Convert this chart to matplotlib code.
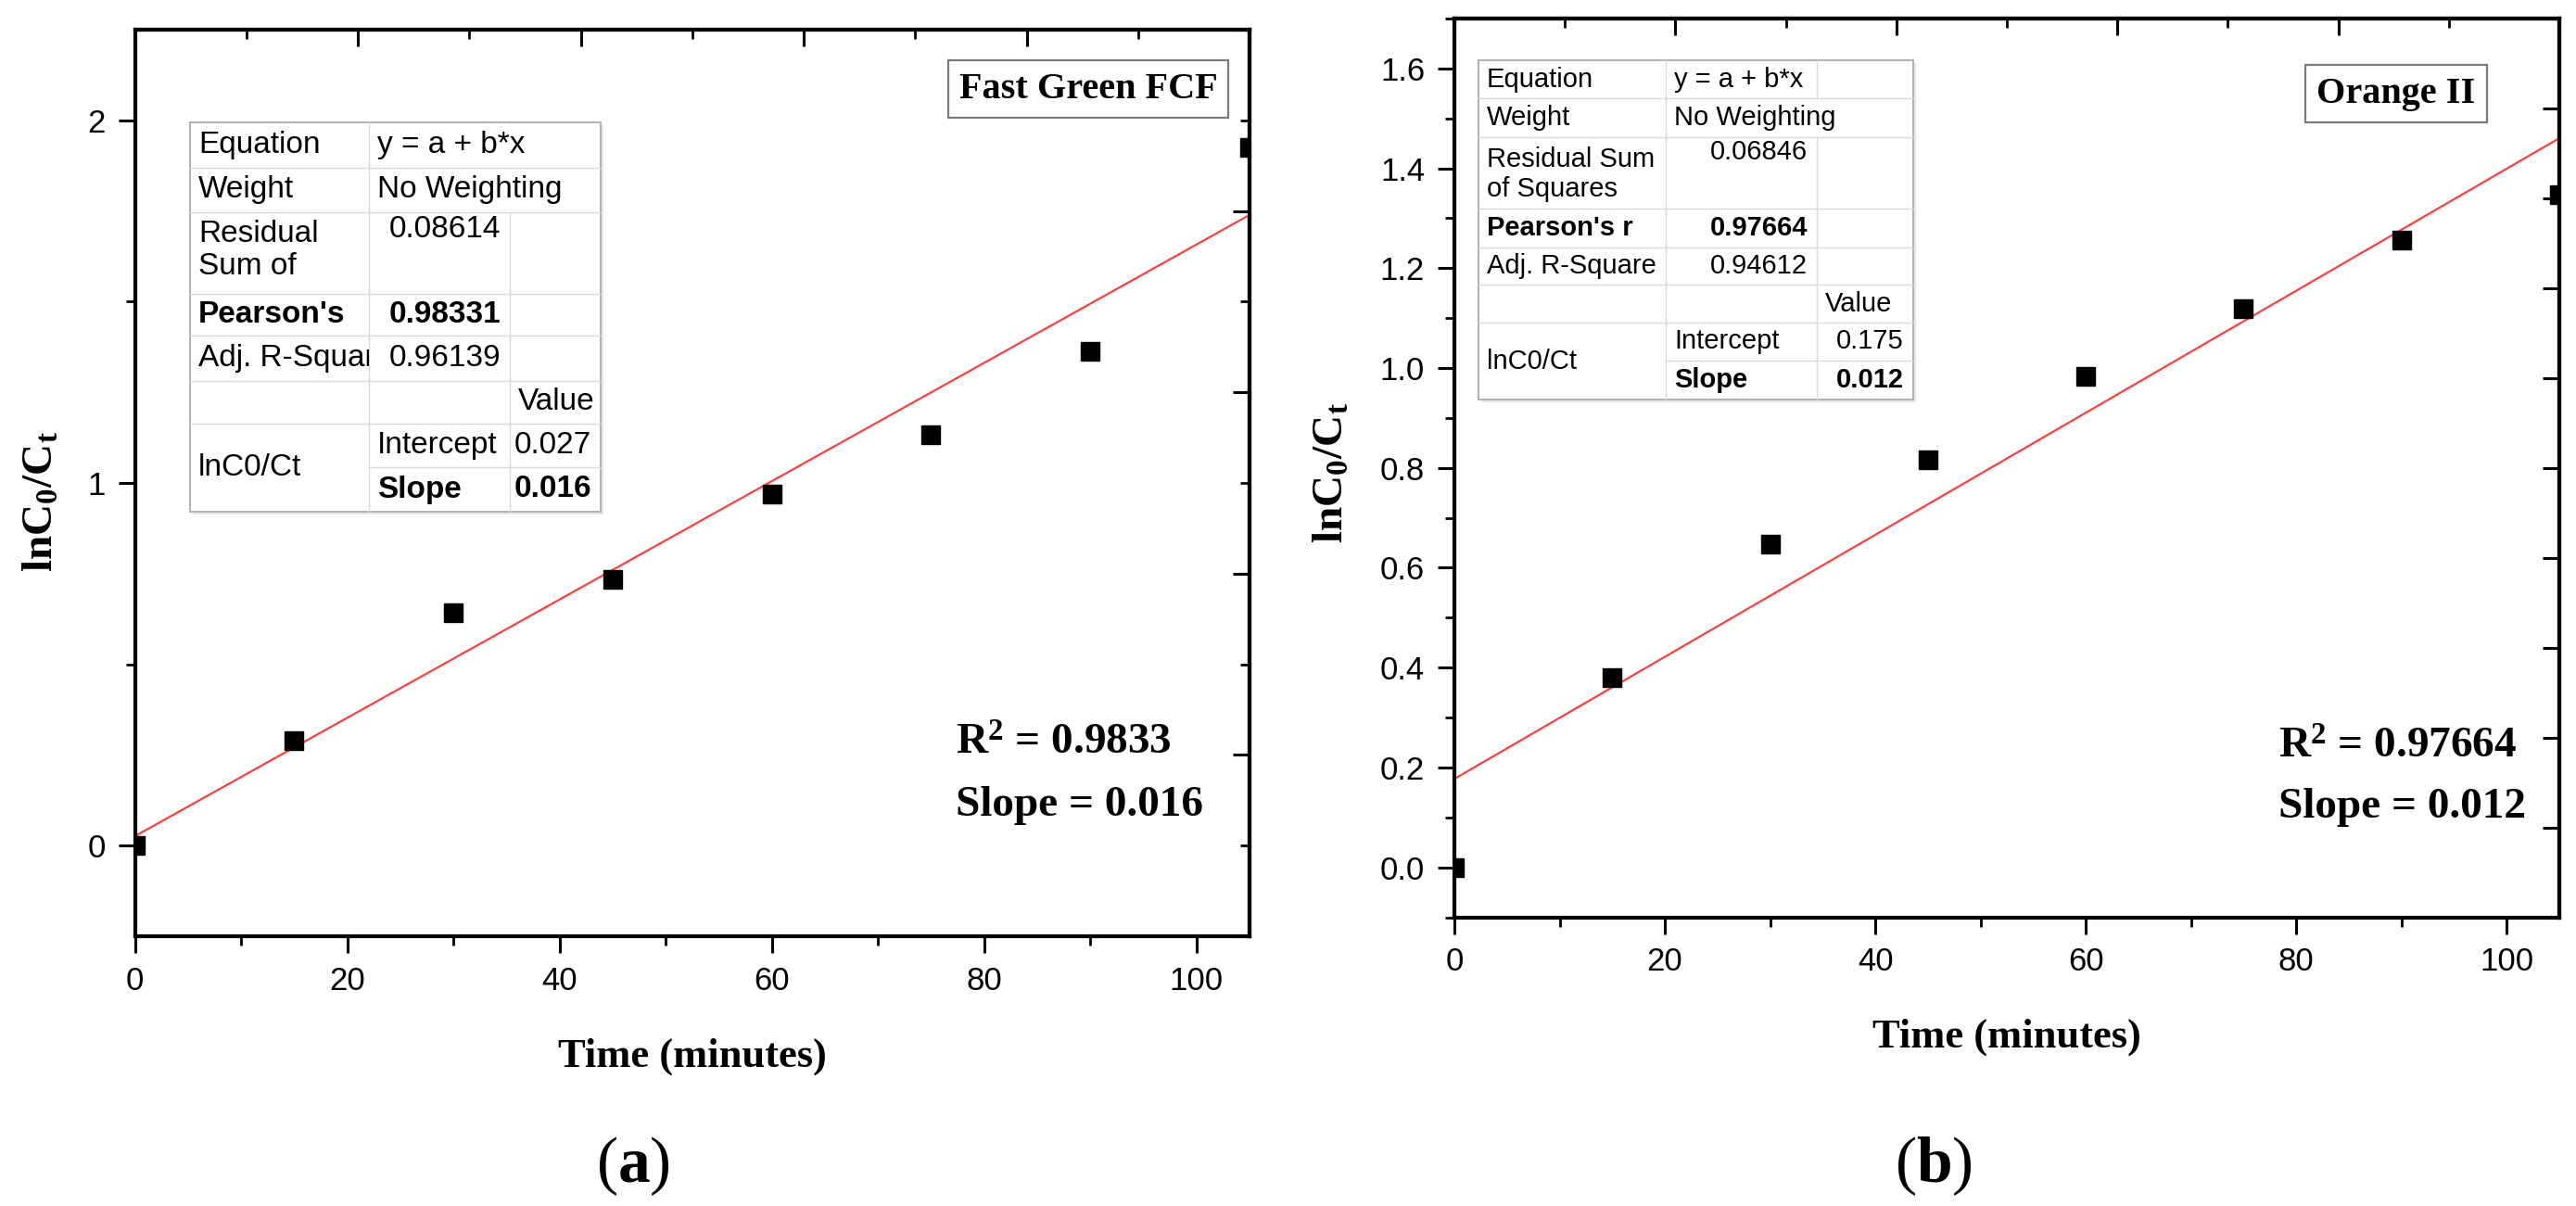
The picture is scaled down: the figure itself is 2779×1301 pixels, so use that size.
import matplotlib.pyplot as plt
import numpy as np
from matplotlib.transforms import Affine2D
from matplotlib.patches import Rectangle
from matplotlib.ticker import MultipleLocator

plt.rcParams['font.family'] = 'Liberation Sans'
plt.rcParams['mathtext.fontset'] = 'custom'
plt.rcParams['mathtext.rm'] = 'Liberation Serif'
plt.rcParams['mathtext.it'] = 'Liberation Serif:italic'
plt.rcParams['mathtext.bf'] = 'Liberation Serif:bold'

# data
time_min = [0, 15, 30, 45, 60, 75, 90, 105]
green_ln = [0, 0.29, 0.643, 0.734, 0.97, 1.133, 1.364, 1.926]
orange_ln = [0, 0.38, 0.647, 0.817, 0.983, 1.119, 1.256, 1.348]

dye_names = ["Fast Green FCF", "Orange II"]
r2_labels = ["0.9833", "0.97664"]
slope_labels = ["0.016", "0.012"]
panel_tags = ["a", "b"]

green_table = [
    ["Equation", "y = a + b*x", ""],
    ["Weight", "No Weighting", ""],
    ["Residual\nSum of", "0.08614", ""],
    ["Pearson's", "0.98331", ""],
    ["Adj. R-Square", "0.96139", ""],
    ["", "", "Value"],
    ["lnC0/Ct", "Intercept", "0.027"],
    ["", "Slope", "0.016"],
]
orange_table = [
    ["Equation", "y = a + b*x", ""],
    ["Weight", "No Weighting", ""],
    ["Residual Sum\nof Squares", "0.06846", ""],
    ["Pearson's r", "0.97664", ""],
    ["Adj. R-Square", "0.94612", ""],
    ["", "", "Value"],
    ["lnC0/Ct", "Intercept", "0.175"],
    ["", "Slope", "0.012"],
]

W, H = 2779, 1301
fig = plt.figure(figsize=(W / 100, H / 100), dpi=100)
# pixel coordinates of the picture, y pointing down
px = Affine2D().scale(1 / W, -1 / H).translate(0, 1) + fig.transFigure

ax_a = fig.add_axes([0.05236, 0.22367, 0.43271, 0.75173])
ax_b = fig.add_axes([0.56459, 0.23943, 0.42893, 0.74520])


def style_axes(ax, ylim, ymajor, yminor, right_fn, right_major, right_minor, ylab_xy):
    ax.set_xlim(0, 105)
    ax.set_ylim(*ylim)
    ax.xaxis.set_major_locator(MultipleLocator(20))
    ax.xaxis.set_minor_locator(MultipleLocator(10))
    ax.yaxis.set_major_locator(MultipleLocator(ymajor))
    ax.yaxis.set_minor_locator(MultipleLocator(yminor))
    ax.tick_params(which='both', direction='out', top=False, right=False,
                   labelsize=25, pad=10)
    ax.tick_params(which='major', length=13, width=2.2)
    ax.tick_params(which='minor', length=7, width=2)
    for s in ax.spines.values():
        s.set_linewidth(3)

    top = ax.secondary_xaxis('top', functions=(lambda x: x * 100 / 105,
                                               lambda x: x * 105 / 100))
    top.xaxis.set_major_locator(MultipleLocator(20))
    top.xaxis.set_minor_locator(MultipleLocator(10))
    top.tick_params(which='both', direction='in', labeltop=False)
    top.tick_params(which='major', length=13, width=2.2)
    top.tick_params(which='minor', length=7, width=2)
    top.spines['top'].set_linewidth(3)

    right = ax.secondary_yaxis('right', functions=right_fn)
    right.yaxis.set_major_locator(MultipleLocator(right_major))
    if right_minor:
        right.yaxis.set_minor_locator(MultipleLocator(right_minor))
    right.tick_params(which='both', direction='in', labelright=False)
    right.tick_params(which='major', length=13, width=2.2)
    right.tick_params(which='minor', length=7, width=2)
    right.spines['right'].set_linewidth(3)

    ax.set_xlabel("Time (minutes)", family='Liberation Serif', weight='bold', size=32)
    ax.xaxis.label.set_va('center')
    ax.xaxis.set_label_coords(0.5, -0.133)
    ax.set_ylabel(r"$\mathbf{lnC_0/C_t}$", size=34)
    ax.yaxis.label.set_va('center')
    ax.yaxis.set_label_coords(*ylab_xy)


style_axes(ax_a, (-0.25, 2.25), 1, 0.5,
           (lambda y: (y + 0.25) * 4, lambda k: k / 4 - 0.25), 2, 1, (-0.0836, 0.48))
style_axes(ax_b, (-0.1, 1.7), 0.2, 0.1,
           (lambda y: (y + 0.1) / 0.18, lambda k: k * 0.18 - 0.1), 1, None, (-0.1107, 0.495))

for ax, yv in [(ax_a, green_ln), (ax_b, orange_ln)]:
    ax.plot(time_min, yv, 's', color='black', ms=14.5, zorder=3)
    slope, icpt = np.polyfit(time_min, yv, 1)
    ax.axline((0, icpt), slope=slope, color='#ff4040', lw=1.6, zorder=2)

# dye name boxes
for (cx, cy), name in zip([(1174, 96), (2585, 101)], dye_names):
    fig.text(cx, cy, name, transform=px, ha='center', va='center',
             family='Liberation Serif', weight='bold', size=29,
             bbox=dict(boxstyle='square,pad=0.3', fc='white', ec='#7a7a7a', lw=1.6))

# R^2 and slope notes
for (x, y1, y2), r2, sl in zip([(1031, 803, 869), (2458, 807, 871)], r2_labels, slope_labels):
    fig.text(x, y1, r"R$^\mathbf{2}$ = " + r2, transform=px, ha='left', va='center',
             family='Liberation Serif', weight='bold', size=34)
    fig.text(x, y2, "Slope = " + sl, transform=px, ha='left', va='center',
             family='Liberation Serif', weight='bold', size=34)

# panel tags
for (cx, cy), tag in zip([(683, 1258), (2086, 1258)], panel_tags):
    fig.text(cx, cy, "($\\mathbf{" + tag + "}$)", transform=px, ha='center', va='center',
             family='Liberation Serif', size=50)


def draw_table(rows, cols, ys, size, first_row_split, label_top, value_offset, spacing):
    x0, x3 = cols[0], cols[-1]
    y0, y8 = ys[0], ys[-1]
    fig.add_artist(Rectangle((x0 + 3, y0 + 3), x3 - x0, y8 - y0, transform=px,
                             fc='#e6e6e6', ec='none'))
    fig.add_artist(Rectangle((x0, y0), x3 - x0, y8 - y0, transform=px,
                             fc='white', ec='#b0b0b0', lw=1.4))
    grid = dict(color='#dadada', lw=1.0, transform=px)
    for i in range(1, 8):
        xs = cols[1] if i == 7 else x0
        fig.add_artist(plt.Line2D([xs, x3], [ys[i], ys[i]], **grid))
    fig.add_artist(plt.Line2D([cols[1], cols[1]], [y0, y8], **grid))
    fig.add_artist(plt.Line2D([cols[2], cols[2]], [ys[2], y8], **grid))
    if first_row_split:
        fig.add_artist(plt.Line2D([cols[2], cols[2]], [y0, ys[1]], **grid))

    for r, row in enumerate(rows):
        for c, s in enumerate(row):
            if not s:
                continue
            top, bot = ys[r], ys[r + 1]
            left, right = cols[c], cols[c + 1]
            if r in (0, 1) and c == 1 and not (first_row_split and r == 0):
                right = cols[3]
            if r == 6 and c == 0:
                bot = ys[8]
            numeric = s[0].isdigit() and c > 0
            ha = 'right' if numeric else 'left'
            x = right - 10 if numeric else left + 9
            if r == 2 and c == 0:
                y, va = top + label_top, 'top'
            elif r == 2:
                y, va = top + value_offset, 'center'
            else:
                y, va = (top + bot) / 2, 'center'
            bold = (r == 3 and c < 2) or (r == 7 and c > 0)
            t = fig.text(x, y, s, transform=px, ha=ha, va=va, size=size,
                         weight='bold' if bold else 'normal', linespacing=spacing)
            t.set_clip_path(Rectangle((left, top), right - left, bot - top, transform=px))


draw_table(green_table, [205, 398, 550, 648],
           [132, 181, 229, 317, 362, 411, 457, 504, 552], 24, False, 8, 19, 1.15)
draw_table(orange_table, [1595, 1797, 1960, 2064],
           [65, 106, 148, 225, 266.5, 307, 348, 389, 431], 21, True, 10, 16, 1.17)

fig.savefig("out.png", dpi=100, facecolor='white')
